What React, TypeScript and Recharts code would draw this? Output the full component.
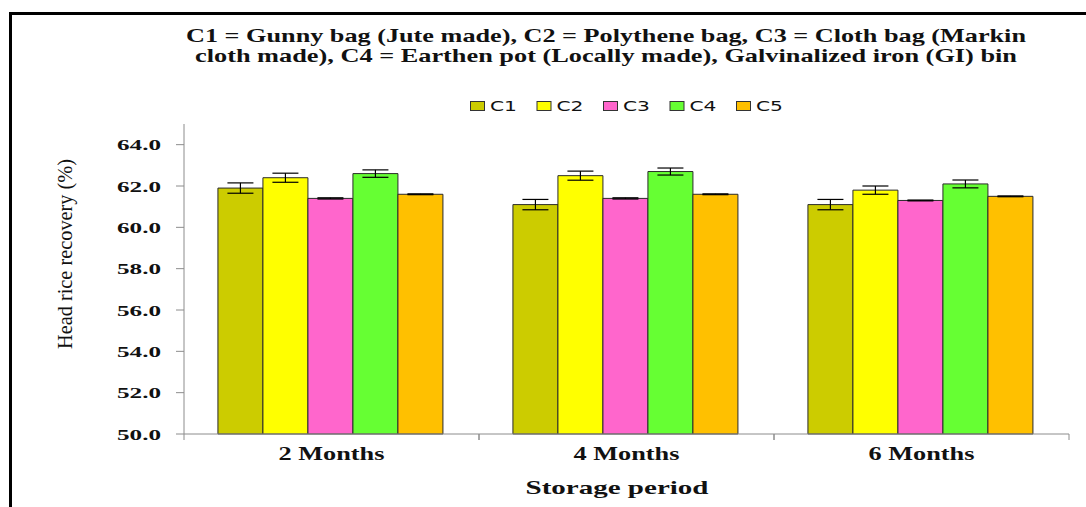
import React from "react";
import { BarChart, Bar, XAxis, YAxis, ErrorBar, Legend, Label } from "recharts";

const periods = ["2 Months", "4 Months", "6 Months"];
const c1 = [61.9, 61.1, 61.1];
const c1Err = [0.25, 0.25, 0.25];
const c2 = [62.4, 62.5, 61.8];
const c2Err = [0.22, 0.22, 0.2];
const c3 = [61.4, 61.4, 61.3];
const c3Err = [0.03, 0.03, 0.02];
const c4 = [62.6, 62.7, 62.1];
const c4Err = [0.18, 0.17, 0.19];
const c5 = [61.6, 61.6, 61.5];
const c5Err = [0.02, 0.02, 0.02];

const seriesNames = ["C1", "C2", "C3", "C4", "C5"];
const yTicks = [50, 52, 54, 56, 58, 60, 62, 64];
const titleLines = [
  "C1 = Gunny bag (Jute made), C2 = Polythene bag, C3 = Cloth bag (Markin",
  "cloth made), C4 = Earthen pot (Locally made), Galvinalized iron (GI) bin",
];

const colors = ["#CCCC00", "#FFFF00", "#FF66CC", "#66FF33", "#FFC000"];
const serif = "'Liberation Serif', 'Times New Roman', serif";

const data = periods.map((period, i) => ({
  period,
  c1: c1[i],
  c1Err: c1Err[i],
  c2: c2[i],
  c2Err: c2Err[i],
  c3: c3[i],
  c3Err: c3Err[i],
  c4: c4[i],
  c4Err: c4Err[i],
  c5: c5[i],
  c5Err: c5Err[i],
}));

function PeriodTick(props: any) {
  const { x, y, payload } = props;
  const half = payload && payload.offset ? payload.offset : 147.5;
  return (
    <g>
      <line x1={x - half} x2={x - half} y1={y} y2={y + 6} stroke="#8c8c8c" />
      <line x1={x + half} x2={x + half} y1={y} y2={y + 6} stroke="#8c8c8c" />
      <text
        x={x}
        y={y + 26}
        textAnchor="middle"
        fontFamily={serif}
        fontWeight="bold"
        fontSize={18}
        fill="#111"
        textLength={106}
        lengthAdjust="spacingAndGlyphs"
      >
        {payload.value}
      </text>
    </g>
  );
}

function ValueTick(props: any) {
  const { x, y, payload } = props;
  return (
    <text
      x={x}
      y={y + 5.5}
      textAnchor="end"
      fontFamily={serif}
      fontWeight="bold"
      fontSize={15.5}
      fill="#111"
      textLength={44}
      lengthAdjust="spacingAndGlyphs"
    >
      {Number(payload.value).toFixed(1)}
    </text>
  );
}

function renderLegend(props: any) {
  const items = props.payload || [];
  return (
    <svg width={340} height={22} style={{ display: "block" }}>
      {items.map((item: any, i: number) => (
        <g key={item.value}>
          <rect
            x={i * 66.5 + 0.5}
            y={2.5}
            width={14}
            height={9}
            fill={item.color}
            stroke="#333"
          />
          <text
            x={i * 66.5 + 20}
            y={12}
            fontFamily="'DejaVu Sans', sans-serif"
            fontSize={14.5}
            fill="#111"
            textLength={27}
            lengthAdjust="spacingAndGlyphs"
          >
            {item.value}
          </text>
        </g>
      ))}
    </svg>
  );
}

export default function App() {
  const keys = ["c1", "c2", "c3", "c4", "c5"];
  return (
    <div
      style={{
        position: "fixed",
        left: 0,
        top: 0,
        width: 1086,
        height: 507,
        overflow: "hidden",
        background: "#fff",
      }}
    >
      <div
        style={{
          position: "absolute",
          left: 9,
          top: 12,
          width: 1200,
          height: 600,
          borderTop: "3px solid #000",
          borderLeft: "3px solid #000",
        }}
      />
      <div style={{ position: "absolute", left: 0, top: 0 }}>
        <BarChart
          width={1086}
          height={507}
          data={data}
          margin={{ top: 124, right: 17, bottom: 0, left: 0 }}
          barCategoryGap="11.5%"
          barGap={0}
        >
          <XAxis
            dataKey="period"
            height={73}
            tickSize={0}
            tickMargin={0}
            tickLine={false}
            axisLine={{ stroke: "#8c8c8c" }}
            tick={<PeriodTick />}
            interval={0}
          >
            <Label
              content={() => (
                <text
                  x={617}
                  y={494}
                  textAnchor="middle"
                  fontFamily={serif}
                  fontWeight="bold"
                  fontSize={19}
                  fill="#111"
                  textLength={183}
                  lengthAdjust="spacingAndGlyphs"
                >
                  Storage period
                </text>
              )}
            />
          </XAxis>
          <XAxis
            xAxisId="top"
            dataKey="period"
            orientation="top"
            height={0}
            tick={false}
            tickLine={false}
            axisLine={{ stroke: "#404040", strokeWidth: 2 }}
          />
          <YAxis
            type="number"
            domain={[50, 65]}
            ticks={yTicks}
            width={184}
            tickSize={8}
            tickMargin={15}
            tickLine={{ stroke: "#8c8c8c" }}
            axisLine={{ stroke: "#8c8c8c" }}
            tick={<ValueTick />}
            interval={0}
          >
            <Label
              content={() => (
                <text
                  x={72}
                  y={254}
                  transform="rotate(-90 72 254)"
                  textAnchor="middle"
                  fontFamily={serif}
                  fontSize={21}
                  fill="#111"
                  textLength={190}
                  lengthAdjust="spacingAndGlyphs"
                >
                  Head rice recovery (%)
                </text>
              )}
            />
          </YAxis>
          <YAxis
            yAxisId="right"
            orientation="right"
            type="number"
            domain={[50, 65]}
            width={0}
            tick={false}
            tickLine={false}
            axisLine={{ stroke: "#404040", strokeWidth: 2 }}
          />
          <Legend
            layout="horizontal"
            verticalAlign="middle"
            align="center"
            content={renderLegend}
            wrapperStyle={{ position: "absolute", left: 470, top: 99, width: 340, height: 22 }}
          />
          {keys.map((k, i) => (
            <Bar
              key={k}
              dataKey={k}
              name={seriesNames[i]}
              fill={colors[i]}
              stroke="#2a2a2a"
              strokeWidth={1}
              isAnimationActive={false}
            >
              <ErrorBar
                dataKey={k + "Err"}
                width={13}
                stroke="#000"
                strokeWidth={1.2}
                direction="y"
                isAnimationActive={false}
              />
            </Bar>
          ))}
        </BarChart>
      </div>
      <svg
        width={1086}
        height={80}
        style={{ position: "absolute", left: 0, top: 0, pointerEvents: "none" }}
      >
        <text
          x={606}
          y={42}
          textAnchor="middle"
          fontFamily={serif}
          fontWeight="bold"
          fontSize={19}
          fill="#111"
          textLength={840}
          lengthAdjust="spacingAndGlyphs"
        >
          {titleLines[0]}
        </text>
        <text
          x={606}
          y={62}
          textAnchor="middle"
          fontFamily={serif}
          fontWeight="bold"
          fontSize={19}
          fill="#111"
          textLength={822}
          lengthAdjust="spacingAndGlyphs"
        >
          {titleLines[1]}
        </text>
      </svg>
    </div>
  );
}
